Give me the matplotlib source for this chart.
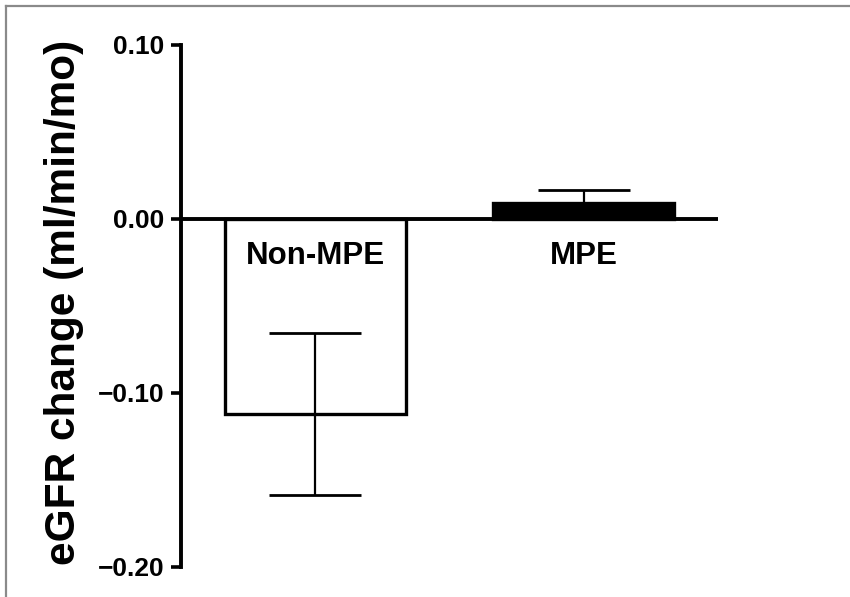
import matplotlib
matplotlib.use("Agg")
import matplotlib.pyplot as plt
from matplotlib import font_manager
from matplotlib.lines import Line2D
import matplotlib.transforms as mtransforms

# ---- data ----
categories = ["Non-MPE", "MPE"]
means = [-0.112, 0.009]
sem = [0.0465, 0.0075]
fills = ["white", "black"]
yticks = [0.10, 0.00, -0.10, -0.20]
ytick_labels = ["0.10", "0.00", "\u22120.10", "\u22120.20"]
ylabel = "eGFR change (ml/min/mo)"

available = {f.name for f in font_manager.fontManager.ttflist}
narrow_ok = "Liberation Sans Narrow" in available
if narrow_ok:
    tick_font = ["Liberation Sans Narrow", "DejaVu Sans"]
    tick_size = 23
    cat_size = 27
else:
    tick_font = ["Liberation Sans", "DejaVu Sans"]
    tick_size = 19
    cat_size = 22.5
label_font = ["Liberation Sans", "DejaVu Sans"]

W, H = 850, 597
fig = plt.figure(figsize=(W / 100, H / 100), dpi=100)
ax = fig.add_axes([181 / W, 1 - 567 / H, (718 - 181) / W, (567 - 45) / H])

x = list(range(len(categories)))
ax.bar(x, means, width=0.673, color=fills, edgecolor="black", linewidth=2.4, zorder=2)
ax.errorbar(x, means, yerr=sem, fmt="none", ecolor="black", elinewidth=1.6,
            capsize=33, capthick=2.0, zorder=3)
ax.axhline(0, color="black", linewidth=2.8, zorder=4)

ax.set_xlim(-0.5, 1.5)
ax.set_ylim(-0.20, 0.10)
ax.set_yticks(yticks)
ax.set_yticklabels(ytick_labels, fontfamily=tick_font, fontweight="bold", fontsize=tick_size)
ax.set_xticks([])
for s in ["top", "right", "bottom"]:
    ax.spines[s].set_visible(False)
ax.spines["left"].set_linewidth(2.8)
ax.tick_params(axis="y", length=7, width=2.6, pad=5, color="black")

off = mtransforms.offset_copy(ax.transData, fig=fig, y=-27, units="points")
for xi, lab in zip(x, categories):
    ax.text(xi, 0, lab, transform=off, ha="center", va="center",
            fontfamily=tick_font, fontweight="bold", fontsize=cat_size)

ax.set_ylabel(ylabel, fontfamily=label_font, fontweight="bold", fontsize=30.5)
ax.yaxis.label.set_verticalalignment("center")
ax.yaxis.set_label_coords((64 - 181) / (718 - 181), (567 - 302) / (567 - 45),
                          transform=ax.transAxes)

# gray frame of the figure panel
fig.add_artist(Line2D([6 / W, 1], [1 - 6 / H, 1 - 6 / H], transform=fig.transFigure,
                      color="#8a8a8a", linewidth=1.6))
fig.add_artist(Line2D([6 / W, 6 / W], [0, 1 - 6 / H], transform=fig.transFigure,
                      color="#8a8a8a", linewidth=1.6))

fig.savefig("out.png", dpi=100)
